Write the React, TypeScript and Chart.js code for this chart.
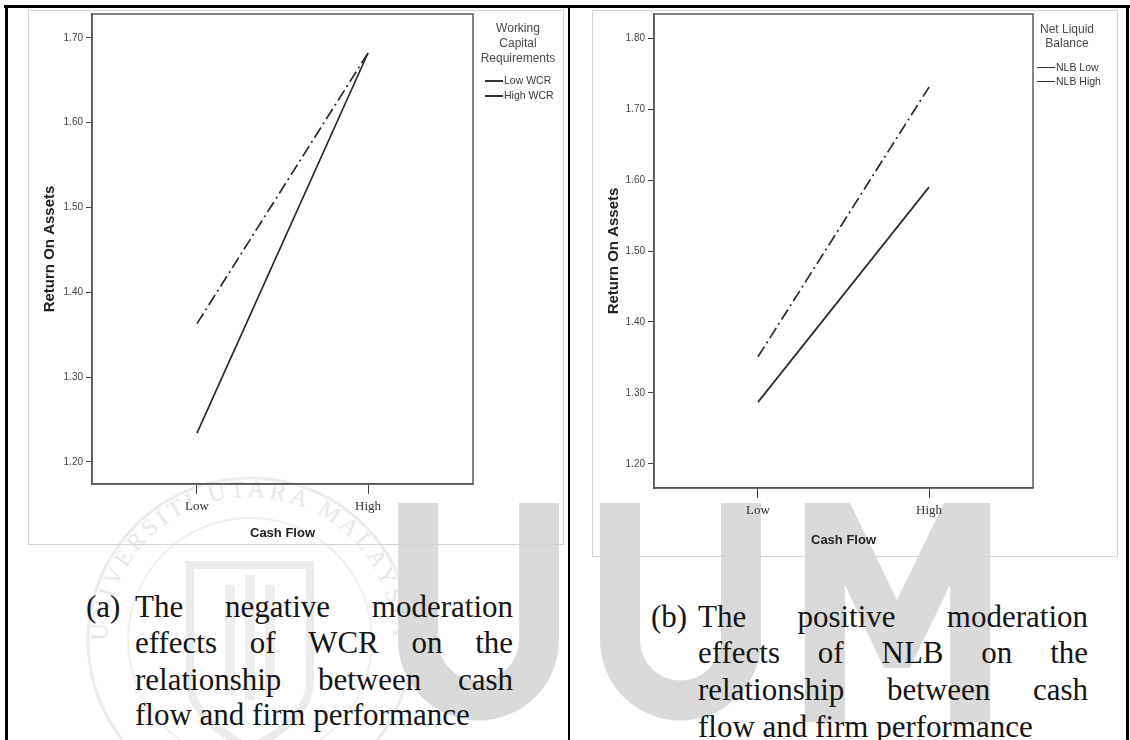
import React, { useEffect, useRef } from "react";
import { Chart, registerables } from "chart.js";

Chart.register(...registerables);

// ---------------- data ----------------
const cashFlowLabels = ["Low", "High"];
const cashFlowPositions = [0, 1];

const wcrLegendTitle = ["Working", "Capital", "Requirements"];
const wcrSeriesNames = ["Low WCR", "High WCR"];
const lowWcrRoa = [1.234, 1.682];
const highWcrRoa = [1.363, 1.682];
const wcrTickValues = [1.2, 1.3, 1.4, 1.5, 1.6, 1.7];

const nlbLegendTitle = ["Net Liquid", "Balance"];
const nlbSeriesNames = ["NLB Low", "NLB High"];
const nlbLowRoa = [1.287, 1.59];
const nlbHighRoa = [1.351, 1.731];
const nlbTickValues = [1.2, 1.3, 1.4, 1.5, 1.6, 1.7, 1.8];

const captionA = [
  "The negative moderation",
  "effects of WCR on the",
  "relationship between cash",
  "flow and firm performance",
];
const captionB = [
  "The positive moderation",
  "effects of NLB on the",
  "relationship between cash",
  "flow and firm performance",
];

// ---------------- styling ----------------
const SANS = "Arial, 'Liberation Sans', sans-serif";
const SERIF = "'Times New Roman', 'Liberation Serif', serif";
const LINE_COLOR = "#2a2a2a";
const DASH_DOT = [12, 4, 2, 4];

const framePlugin = {
  id: "plotFrame",
  beforeDatasetsDraw(chart: any) {
    const { ctx, chartArea: a } = chart;
    ctx.save();
    ctx.strokeStyle = "#5c5c5c";
    ctx.lineWidth = 1.5;
    ctx.strokeRect(a.left, a.top, a.right - a.left, a.bottom - a.top);
    ctx.restore();
  },
};

type PanelProps = {
  left: number;
  top: number;
  width: number;
  height: number;
  plot: { left: number; top: number; right: number; bottom: number };
  yMin: number;
  yMax: number;
  yTicks: number[];
  names: string[];
  series: number[][];
  xTitlePadBottom: number;
  xMin: number;
  xMax: number;
};

function MiniChart(p: PanelProps) {
  const ref = useRef<HTMLCanvasElement | null>(null);
  useEffect(() => {
    if (!ref.current) return;
    const chart = new Chart(ref.current, {
      type: "line",
      data: {
        datasets: p.series.map((vals, i) => ({
          label: p.names[i],
          data: cashFlowPositions.map((x, j) => ({ x, y: vals[j] })),
          borderColor: LINE_COLOR,
          borderWidth: 1.7,
          borderDash: i === 0 ? [] : DASH_DOT,
          pointRadius: 0,
          fill: false,
          tension: 0,
        })),
      },
      options: {
        animation: false,
        responsive: false,
        maintainAspectRatio: false,
        devicePixelRatio: 1,
        layout: {
          padding: { left: 0, top: p.plot.top, right: p.width - p.plot.right, bottom: 0 },
        },
        plugins: {
          legend: { display: false },
          tooltip: { enabled: false },
          title: { display: false },
        },
        scales: {
          x: {
            type: "linear",
            min: p.xMin,
            max: p.xMax,
            afterBuildTicks: (s: any) => {
              s.ticks = cashFlowPositions.map((v) => ({ value: v }));
            },
            afterFit: (s: any) => {
              s.height = p.height - p.plot.bottom;
            },
            ticks: {
              autoSkip: false,
              maxRotation: 0,
              callback: (v: any) => cashFlowLabels[cashFlowPositions.indexOf(Number(v))] ?? "",
              font: { family: SERIF, size: 13 },
              color: "#333",
              padding: 5,
            },
            grid: { drawOnChartArea: false, drawTicks: true, tickLength: 10, color: "#444", lineWidth: 1 },
            border: { display: true, color: "#444", width: 1.5 },
            title: {
              display: true,
              text: "Cash Flow",
              font: { family: SANS, size: 13, weight: "bold" },
              color: "#222",
              padding: { top: 0, bottom: p.xTitlePadBottom },
            },
          },
          y: {
            type: "linear",
            min: p.yMin,
            max: p.yMax,
            afterBuildTicks: (s: any) => {
              s.ticks = p.yTicks.map((v) => ({ value: v }));
            },
            afterFit: (s: any) => {
              s.width = p.plot.left;
            },
            ticks: {
              callback: (v: any) => Number(v).toFixed(2),
              font: { family: SANS, size: 10 },
              color: "#444",
              padding: 3,
            },
            grid: { drawOnChartArea: false, drawTicks: true, tickLength: 6, color: "#444", lineWidth: 1 },
            border: { display: true, color: "#444", width: 1.5 },
            title: {
              display: true,
              text: "Return On Assets",
              font: { family: SANS, size: 15, weight: "bold" },
              color: "#222",
              padding: { top: 13, bottom: 0 },
            },
          },
        },
      },
      plugins: [framePlugin],
    } as any);
    return () => chart.destroy();
  }, []);
  return (
    <canvas
      ref={ref}
      width={p.width}
      height={p.height}
      style={{ position: "absolute", left: p.left, top: p.top, width: p.width, height: p.height, zIndex: 2 }}
    />
  );
}

function Legend(props: {
  centerX: number;
  titleTop: number;
  titleLine: number;
  title: string[];
  itemTop: number;
  itemLine: number;
  names: string[];
  sampleLeft: number;
}) {
  const els: any[] = [];
  props.title.forEach((t, i) => {
    els.push(
      <div
        key={"t" + i}
        style={{
          position: "absolute",
          left: props.centerX - 60,
          width: 120,
          top: props.titleTop + i * props.titleLine,
          lineHeight: props.titleLine + "px",
          textAlign: "center",
          fontFamily: SANS,
          fontSize: 12,
          color: "#4a4a4a",
          whiteSpace: "nowrap",
        }}
      >
        {t}
      </div>
    );
  });
  props.names.forEach((n, i) => {
    const y = props.itemTop + i * props.itemLine;
    els.push(
      <div
        key={"l" + i}
        style={{
          position: "absolute",
          left: props.sampleLeft,
          top: y + props.itemLine / 2 - 0.5,
          width: 18,
          height: 1.5,
          background: "#333",
        }}
      />
    );
    els.push(
      <div
        key={"n" + i}
        style={{
          position: "absolute",
          left: props.sampleLeft + 19,
          top: y,
          lineHeight: props.itemLine + "px",
          fontFamily: SANS,
          fontSize: 10.5,
          color: "#3a3a3a",
          whiteSpace: "nowrap",
        }}
      >
        {n}
      </div>
    );
  });
  return <div style={{ position: "absolute", left: 0, top: 0, zIndex: 3 }}>{els}</div>;
}

function Caption(props: { label: string; labelLeft: number; left: number; width: number; tops: number[]; lines: string[] }) {
  const st = {
    position: "absolute" as const,
    fontFamily: SERIF,
    fontSize: 31,
    lineHeight: "36px",
    color: "#151515",
    whiteSpace: "nowrap" as const,
  };
  return (
    <div style={{ position: "absolute", left: 0, top: 0, zIndex: 3 }}>
      <div style={{ ...st, left: props.labelLeft, top: props.tops[0] }}>{props.label}</div>
      {props.lines.map((line, i) => {
        const last = i === props.lines.length - 1;
        const words = line.split(" ");
        return (
          <div
            key={i}
            style={{
              ...st,
              left: props.left,
              top: props.tops[i],
              width: last ? undefined : props.width,
              display: "flex",
              justifyContent: last ? "flex-start" : "space-between",
              gap: last ? "0.25em" : undefined,
            }}
          >
            {words.map((w, k) => (
              <span key={k}>{w}</span>
            ))}
          </div>
        );
      })}
    </div>
  );
}

function uPath(x0: number) {
  const top = 503;
  const mid = 640;
  return `M ${x0} ${top} L ${x0 + 40} ${top} L ${x0 + 40} ${mid} A 40.5 40.5 0 0 0 ${x0 + 121} ${mid} L ${x0 + 121} ${top} L ${x0 + 161} ${top} L ${x0 + 161} ${mid} A 80.5 80.5 0 0 1 ${x0} ${mid} Z`;
}

function Watermark() {
  const cx = 250;
  const cy = 640;
  const r = 143;
  const a1 = (210 * Math.PI) / 180;
  const a2 = (-30 * Math.PI) / 180;
  const sx = cx + r * Math.cos(a1);
  const sy = cy - r * Math.sin(a1);
  const ex = cx + r * Math.cos(a2);
  const ey = cy - r * Math.sin(a2);
  return (
    <svg width={1130} height={740} style={{ position: "absolute", left: 0, top: 0, zIndex: 0 }}>
      <defs>
        <path id="sealArc" d={`M ${sx} ${sy} A ${r} ${r} 0 1 1 ${ex} ${ey}`} fill="none" />
      </defs>
      <circle cx={cx} cy={cy} r={162} fill="none" stroke="#ececec" strokeWidth={3} />
      <circle cx={cx} cy={cy} r={122} fill="none" stroke="#efefef" strokeWidth={2} />
      <text fontFamily={SERIF} fontSize={24} fill="#e8e8e8" letterSpacing={4}>
        <textPath href="#sealArc" startOffset="50%" textAnchor="middle">
          UNIVERSITI UTARA MALAYSIA
        </textPath>
      </text>
      <path
        d={`M 190 565 L 310 565 L 310 680 Q 310 720 250 748 Q 190 720 190 680 Z`}
        fill="none"
        stroke="#ebebeb"
        strokeWidth={8}
      />
      <rect x={225} y={585} width={10} height={110} fill="#eeeeee" />
      <rect x={245} y={575} width={10} height={125} fill="#eeeeee" />
      <rect x={265} y={585} width={10} height={110} fill="#eeeeee" />
      <path d={uPath(398)} fill="#dadada" />
      <path d={uPath(600)} fill="#dadada" />
      <path
        d="M 805 503 L 850 503 L 897 600 L 944 503 L 990 503 L 990 722 L 950 722 L 950 585 L 910 668 L 884 668 L 845 585 L 845 722 L 805 722 Z"
        fill="#dadada"
      />
    </svg>
  );
}

export default function App() {
  const black = (l: number, t: number, w: number, h: number) => (
    <div style={{ position: "absolute", left: l, top: t, width: w, height: h, background: "#000", zIndex: 4 }} />
  );
  const box = (l: number, t: number, r: number, b: number) => (
    <div
      style={{
        position: "absolute",
        left: l,
        top: t,
        width: r - l,
        height: b - t,
        border: "1px solid #d4d4d4",
        boxSizing: "border-box",
        zIndex: 1,
      }}
    />
  );
  return (
    <div
      style={{
        position: "fixed",
        left: 0,
        top: 0,
        width: 1130,
        height: 740,
        overflow: "hidden",
        background: "#fff",
      }}
    >
      <Watermark />
      {box(28, 10, 564, 545)}
      {box(592, 10, 1118, 557)}
      <MiniChart
        left={28}
        top={0}
        width={534}
        height={545}
        plot={{ left: 64, top: 14, right: 445, bottom: 484 }}
        yMin={1.174}
        yMax={1.728}
        yTicks={wcrTickValues}
        names={wcrSeriesNames}
        series={[lowWcrRoa, highWcrRoa]}
        xTitlePadBottom={4}
        xMin={-0.614}
        xMax={1.614}
      />
      <MiniChart
        left={592}
        top={0}
        width={526}
        height={557}
        plot={{ left: 62, top: 14, right: 441, bottom: 488 }}
        yMin={1.166}
        yMax={1.834}
        yTicks={nlbTickValues}
        names={nlbSeriesNames}
        series={[nlbLowRoa, nlbHighRoa]}
        xTitlePadBottom={9}
        xMin={-0.608}
        xMax={1.608}
      />
      <Legend
        centerX={518}
        titleTop={20.5}
        titleLine={15}
        title={wcrLegendTitle}
        itemTop={73}
        itemLine={15}
        names={wcrSeriesNames}
        sampleLeft={485}
      />
      <Legend
        centerX={1067}
        titleTop={23}
        titleLine={13.5}
        title={nlbLegendTitle}
        itemTop={60}
        itemLine={14}
        names={nlbSeriesNames}
        sampleLeft={1037}
      />
      <Caption
        label="(a)"
        labelLeft={86}
        left={135}
        width={378}
        tops={[589, 625, 662, 697]}
        lines={captionA}
      />
      <Caption
        label="(b)"
        labelLeft={651}
        left={698}
        width={390}
        tops={[599, 635, 672, 709]}
        lines={captionB}
      />
      {black(4, 5, 1126, 3)}
      {black(5, 5, 3, 735)}
      {black(568, 5, 2, 735)}
      {black(1126, 5, 3, 735)}
    </div>
  );
}
